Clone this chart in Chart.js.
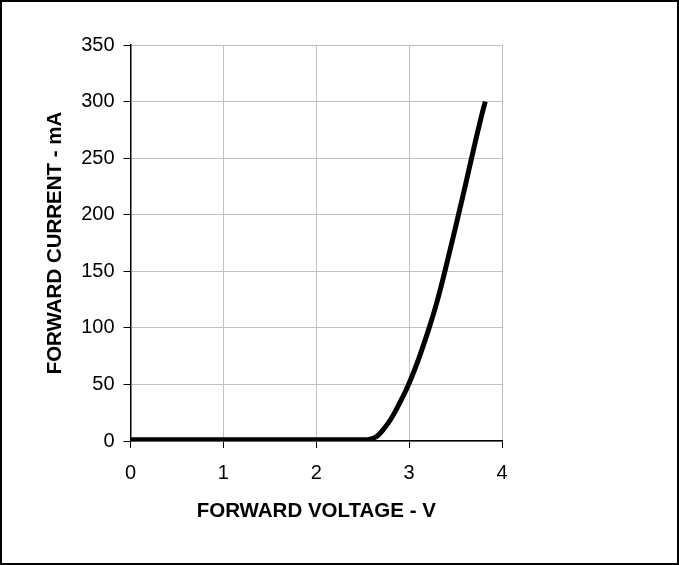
<!DOCTYPE html>
<html>
<head>
<meta charset="utf-8">
<script src="https://cdn.jsdelivr.net/npm/chart.js@4/dist/chart.umd.min.js"></script>
<style>
  html, body { margin: 0; padding: 0; background: #fff; }
  #wrap { width: 679px; height: 565px; position: relative; }
</style>
</head>
<body>
<div id="wrap"><canvas id="grafico" width="679" height="565"></canvas></div>
<script>
// Tensão direta (V) e corrente direta (mA)
var tensoes = [0, 0.5, 1, 1.5, 2, 2.4, 2.5, 2.55, 2.6, 2.65, 2.7, 2.75, 2.8, 2.85, 2.9, 2.95, 3.0, 3.1, 3.2, 3.3, 3.4, 3.5, 3.6, 3.7, 3.8, 3.82];
var correntes = [1, 1, 1, 1, 1, 1, 1, 1.2, 2, 4, 8, 13, 19, 26, 34, 42, 51, 72, 96, 123, 155, 189, 224, 260, 294, 300];

var ticksX = [0, 1, 2, 3, 4];
var ticksY = [0, 50, 100, 150, 200, 250, 300, 350];

var pontos = tensoes.map(function (v, i) { return {x: v, y: correntes[i]}; });

// moldura preta em volta de toda a figura
var moldura = {
    id: 'moldura',
    afterDraw: function (chart) {
        var ctx = chart.ctx;
        ctx.save();
        ctx.strokeStyle = '#000';
        ctx.lineWidth = 2;
        ctx.strokeRect(1, 1, chart.width - 2, chart.height - 2);
        ctx.restore();
    }
};

var contexto = document.getElementById('grafico').getContext('2d');

new Chart(contexto, {
    type: 'line',
    data: {
        datasets: [{
            label: 'Corrente',
            data: pontos,
            borderColor: '#000',
            borderWidth: 5,
            pointRadius: 0,
            cubicInterpolationMode: 'monotone',
            fill: false
        }]
    },
    options: {
        responsive: false,
        animation: false,
        devicePixelRatio: 1,
        layout: {
            padding: {left: 0, right: 177, top: 45, bottom: 0}
        },
        plugins: {
            legend: {display: false},
            tooltip: {enabled: false}
        },
        scales: {
            x: {
                type: 'linear',
                min: 0,
                max: 4,
                afterBuildTicks: function (s) { s.ticks = ticksX.map(function (v) { return {value: v}; }); },
                afterFit: function (s) { s.height = 124; },
                ticks: {
                    color: '#000',
                    padding: 13,
                    font: {family: 'Liberation Sans', size: 20}
                },
                grid: {
                    color: '#c0c0c0',
                    tickColor: '#000',
                    tickLength: 7
                },
                border: {color: '#000', width: 1.5},
                title: {
                    display: true,
                    text: 'FORWARD VOLTAGE - V',
                    color: '#000',
                    padding: {top: 0, bottom: 41},
                    font: {family: 'Liberation Sans', size: 20.5, weight: 'bold'}
                }
            },
            y: {
                min: 0,
                max: 350,
                afterBuildTicks: function (s) { s.ticks = ticksY.map(function (v) { return {value: v}; }); },
                afterFit: function (s) { s.width = 130.5; },
                ticks: {
                    color: '#000',
                    padding: 9,
                    font: {family: 'Liberation Sans', size: 20}
                },
                grid: {
                    color: '#c0c0c0',
                    tickColor: '#000',
                    tickLength: 7
                },
                border: {color: '#000', width: 1.5},
                title: {
                    display: true,
                    text: 'FORWARD CURRENT - mA',
                    color: '#000',
                    padding: {top: 43, bottom: 0},
                    font: {family: 'Liberation Sans', size: 20.5, weight: 'bold'}
                }
            }
        }
    },
    plugins: [moldura]
});
</script>
</body>
</html>
